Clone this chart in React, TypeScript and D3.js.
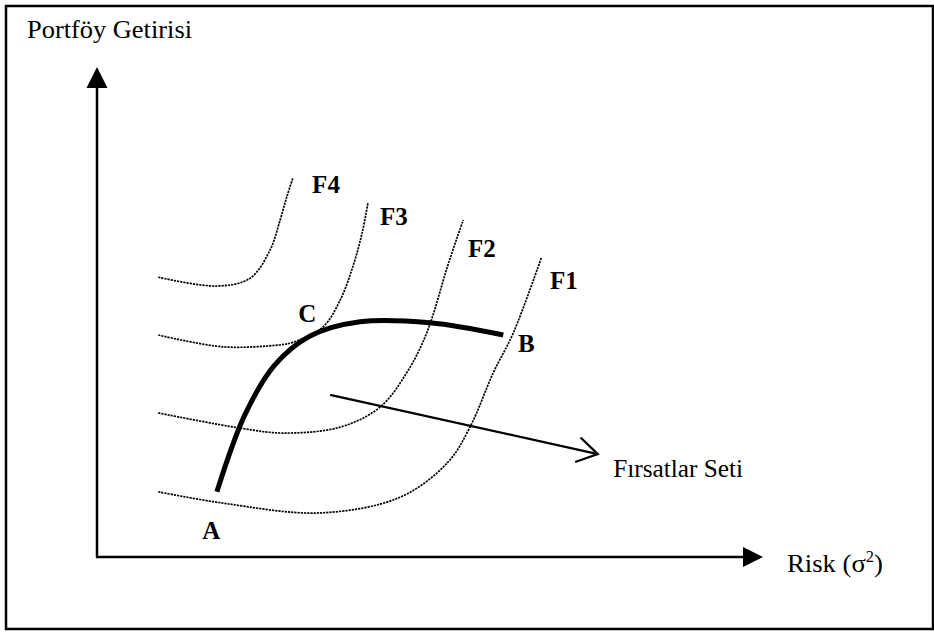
import React from "react";
import * as d3 from "d3";

// Conceptual data space: risk (x) 0..100, return (y) 0..100
const riskDomain = [0, 100];
const returnDomain = [0, 100];

type Pt = [number, number];

const curveF4: Pt[] = [[9.2, 57.1], [18.0, 55.3], [23.0, 56.9], [26.0, 62.7], [27.5, 68.8], [28.5, 73.5], [29.4, 77.3]];
const curveF3: Pt[] = [[9.2, 45.3], [18.9, 42.9], [27.5, 43.3], [29.4, 43.8], [33.9, 46.9], [36.5, 52.4], [38.4, 59.2], [39.8, 66.1], [40.7, 72.4]];
const curveF2: Pt[] = [[9.2, 29.4], [21.5, 26.3], [27.9, 25.3], [36.5, 26.5], [42.5, 30.6], [46.5, 37.6], [49.5, 45.7], [52.6, 59.2], [54.1, 65.3], [55.0, 68.8]];
const curveF1: Pt[] = [[9.2, 13.3], [18.9, 11.0], [33.5, 9.0], [45.5, 12.2], [52.6, 19.2], [56.0, 26.5], [59.5, 37.6], [62.5, 45.7], [66.7, 61.0]];
const frontier: Pt[] = [[18.0, 13.3], [22.2, 29.0], [26.7, 39.2], [32.0, 45.1], [39.5, 48.0], [50.0, 47.8], [61.0, 45.3]];
const opportunityArrow: Pt[] = [[35.0, 33.1], [75.2, 21.0]];

const curveLabels = ["F4", "F3", "F2", "F1"];
const curveLabelAt: Pt[] = [[32.3, 74.3], [42.5, 67.8], [55.7, 61.2], [68.0, 54.7]];
const pointLabels = ["A", "B", "C"];
const pointLabelAt: Pt[] = [[15.8, 3.7], [63.2, 41.8], [30.2, 48.0]];
const setLabel = "Fırsatlar Seti";
const setLabelAt: Pt = [77.5, 16.3];
const yTitle = "Portföy Getirisi";

export default function App() {
  const W = 934, H = 633;
  const x = d3.scaleLinear().domain(riskDomain).range([97, 763]);
  const y = d3.scaleLinear().domain(returnDomain).range([557, 67]);
  const line = d3
    .line<Pt>()
    .x((d) => x(d[0]))
    .y((d) => y(d[1]))
    .curve(d3.curveCatmullRom.alpha(0.5));
  const indiff = [curveF4, curveF3, curveF2, curveF1];

  const x0 = x(0), y0 = y(0), xMax = x(100), yMax = y(100);

  // opportunity arrow head
  const [a0, a1] = opportunityArrow;
  const tx = x(a1[0]), ty = y(a1[1]);
  const ang = Math.atan2(ty - y(a0[1]), tx - x(a0[0]));
  const headLen = 24, spread = 0.55;
  const h1: Pt = [tx - headLen * Math.cos(ang - spread), ty - headLen * Math.sin(ang - spread)];
  const h2: Pt = [tx - headLen * Math.cos(ang + spread), ty - headLen * Math.sin(ang + spread)];

  const font = "'Liberation Serif', 'Times New Roman', serif";

  return (
    <svg width={W} height={H} style={{ position: "absolute", left: 0, top: 0, background: "#fff" }} fontFamily={font}>
      <rect x={6} y={6} width={927} height={623} fill="#fff" stroke="#000" strokeWidth={2.5} />
      <text x={27} y={38} fontSize={26} textLength={165} lengthAdjust="spacingAndGlyphs" fill="#000">{yTitle}</text>

      {/* axes */}
      <line x1={x0} y1={y0} x2={x0} y2={yMax + 18} stroke="#000" strokeWidth={2.5} />
      <polygon points={`${x0},${yMax} ${x0 - 10.5},${yMax + 21} ${x0 + 10.5},${yMax + 21}`} fill="#000" />
      <line x1={x0 - 1} y1={y0} x2={xMax - 18} y2={y0} stroke="#000" strokeWidth={2.5} />
      <polygon points={`${xMax},${y0} ${xMax - 20},${y0 - 10} ${xMax - 20},${y0 + 10}`} fill="#000" />
      <text x={787} y={572} fontSize={26} textLength={96} lengthAdjust="spacingAndGlyphs" fill="#000">
        Risk (σ<tspan dy={-10} fontSize={16}>2</tspan><tspan dy={10}>)</tspan>
      </text>

      {/* indifference curves */}
      {indiff.map((c, i) => (
        <path key={i} d={line(c) || ""} fill="none" stroke="#000" strokeWidth={1.7} strokeDasharray="2.2 1" />
      ))}

      {/* efficient frontier */}
      <path d={line(frontier) || ""} fill="none" stroke="#000" strokeWidth={5} strokeLinecap="butt" />

      {/* opportunity arrow */}
      <line x1={x(a0[0])} y1={y(a0[1])} x2={tx} y2={ty} stroke="#000" strokeWidth={2.2} />
      <polyline points={`${h1[0]},${h1[1]} ${tx},${ty} ${h2[0]},${h2[1]}`} fill="none" stroke="#000" strokeWidth={2.2} />
      <text x={x(setLabelAt[0])} y={y(setLabelAt[1])} fontSize={25} textLength={130} lengthAdjust="spacingAndGlyphs" fill="#000">{setLabel}</text>

      {curveLabels.map((t, i) => (
        <text key={t} x={x(curveLabelAt[i][0])} y={y(curveLabelAt[i][1])} fontSize={25} fontWeight="bold" fill="#000">{t}</text>
      ))}
      {pointLabels.map((t, i) => (
        <text key={t} x={x(pointLabelAt[i][0])} y={y(pointLabelAt[i][1])} fontSize={25} fontWeight="bold" fill="#000">{t}</text>
      ))}
    </svg>
  );
}
